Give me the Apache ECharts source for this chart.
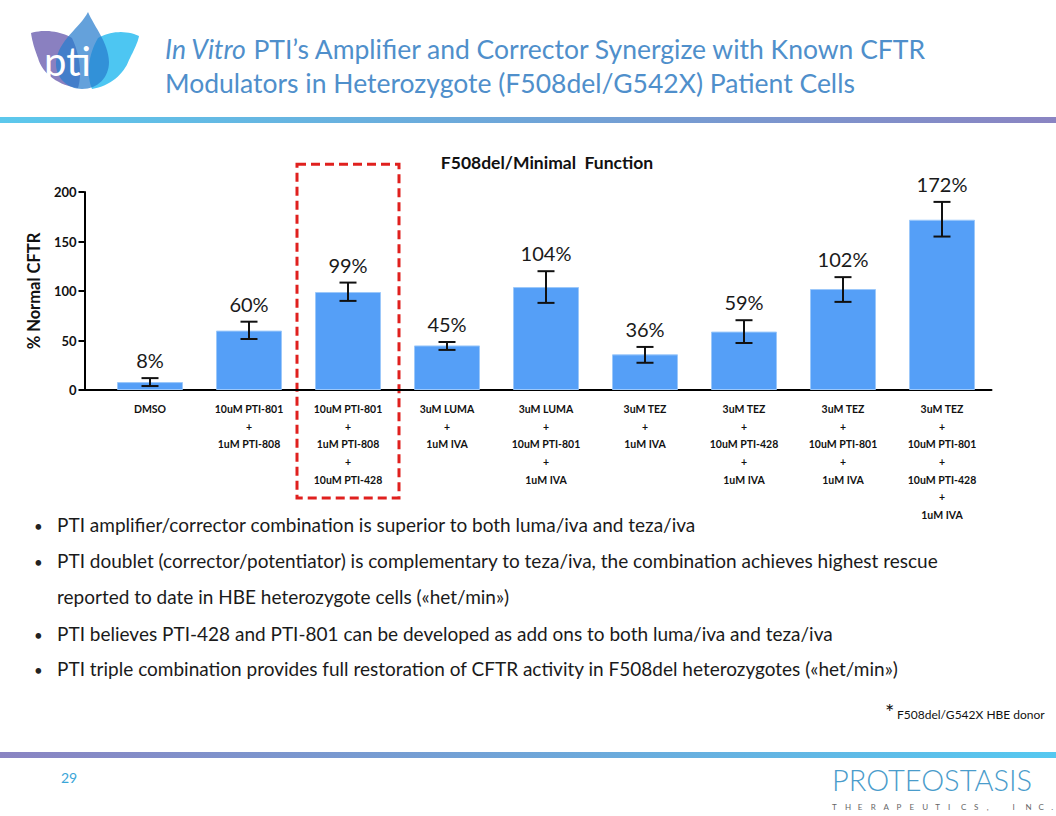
<!DOCTYPE html>
<html>
<head>
<meta charset="utf-8">
<script src="https://cdn.jsdelivr.net/npm/echarts@6/dist/echarts.min.js"></script>
<style>
html,body{margin:0;padding:0;background:#fff;}
#chart{width:1056px;height:816px;}
</style>
</head>
<body>
<div id="chart"></div>
<script>
const categories = [
  'DMSO',
  '10uM PTI-801\n+\n1uM PTI-808',
  '10uM PTI-801\n+\n1uM PTI-808\n+\n10uM PTI-428',
  '3uM LUMA\n+\n1uM IVA',
  '3uM LUMA\n+\n10uM PTI-801\n+\n1uM IVA',
  '3uM TEZ\n+\n1uM IVA',
  '3uM TEZ\n+\n10uM PTI-428\n+\n1uM IVA',
  '3uM TEZ\n+\n10uM PTI-801\n+\n1uM IVA',
  '3uM TEZ\n+\n10uM PTI-801\n+\n10uM PTI-428\n+\n1uM IVA'
];
const values = [8, 60, 99, 45, 104, 36, 59, 102, 172];
const errLow = [4, 51.5, 90, 40.5, 88, 27.5, 47.5, 89, 155];
const errHigh = [12, 69, 108.5, 48.5, 120, 43.5, 70.5, 114, 190];
const valueLabels = ['8%', '60%', '99%', '45%', '104%', '36%', '59%', '102%', '172%'];
const yTicks = { min: 0, max: 200, interval: 50 };
const highlightIndex = 2;
const chartTitle = 'F508del/Minimal  Function';
const yName = '% Normal CFTR';
const bullets = [
  'PTI amplifier/corrector combination is superior to both luma/iva and teza/iva',
  'PTI doublet (corrector/potentiator) is complementary to teza/iva, the combination achieves highest rescue',
  'reported to date in HBE heterozygote cells («het/min»)',
  'PTI believes PTI-428 and PTI-801 can be developed as add ons to both luma/iva and teza/iva',
  'PTI triple combination provides full restoration of CFTR activity in F508del heterozygotes («het/min»)'
];
const bulletHasDot = [true, true, false, true, true];

const FONT = 'Lato, "Open Sans", sans-serif';
const chart = echarts.init(document.getElementById('chart'), null, { renderer: 'svg' });

const errData = categories.map((c, i) => [i, values[i], errLow[i], errHigh[i]]);

function bez(start, segs) {
  const pts = [start];
  let p0 = start;
  segs.forEach(s => {
    const [c1, c2, p3] = s;
    for (let t = 1; t <= 16; t++) {
      const u = t / 16, v = 1 - u;
      pts.push([
        v * v * v * p0[0] + 3 * v * v * u * c1[0] + 3 * v * u * u * c2[0] + u * u * u * p3[0],
        v * v * v * p0[1] + 3 * v * v * u * c1[1] + 3 * v * u * u * c2[1] + u * u * u * p3[1]
      ]);
    }
    p0 = p3;
  });
  return pts;
}
const petalPurple = bez([31, 33], [
  [[44, 29], [60, 31], [72, 38]],
  [[80, 55], [82, 75], [78, 88]],
  [[60, 86], [42, 74], [38, 58]],
  [[34, 48], [32, 40], [31, 33]]
]);
const petalCyan = bez([139, 36], [
  [[126, 30], [110, 31], [98, 38]],
  [[88, 55], [86, 75], [92, 89]],
  [[110, 86], [124, 74], [129, 60]],
  [[134, 50], [138, 42], [139, 36]]
]);
const petalBlue = bez([88, 12], [
  [[80, 28], [58, 40], [56, 62]],
  [[55, 78], [68, 89], [82, 89]],
  [[98, 89], [109, 77], [109, 62]],
  [[108, 42], [95, 28], [88, 12]]
]);

const gradTop = { type: 'linear', x: 0, y: 0, x2: 1, y2: 0, colorStops: [{ offset: 0, color: '#5CC8EC' }, { offset: 0.5, color: '#6FA5D8' }, { offset: 1, color: '#8A84C2' }] };
const gradBot = { type: 'linear', x: 0, y: 0, x2: 1, y2: 0, colorStops: [{ offset: 0, color: '#8A84C2' }, { offset: 0.5, color: '#6FA5D8' }, { offset: 1, color: '#55C8F0' }] };

const staticGraphics = [
  { type: 'polygon', shape: { points: petalPurple }, style: { fill: '#8A80C0' } },
  { type: 'polygon', shape: { points: petalCyan }, style: { fill: '#4DC6F2' } },
  { type: 'polygon', shape: { points: petalBlue }, style: { fill: 'rgba(40,125,205,0.72)' } },
  { type: 'text', left: 44, top: 41, style: { text: 'pti', fill: '#fff', fontSize: 40, fontWeight: 'normal', fontFamily: FONT } },
  { type: 'text', left: 165, top: 32, style: {
      text: '{i|In Vitro} PTI’s Amplifier and Corrector Synergize with Known CFTR\nModulators in Heterozygote (F508del/G542X) Patient Cells',
      fill: '#4F8FCB', fontSize: 26.5, fontWeight: 'normal', fontFamily: FONT, lineHeight: 34,
      rich: { i: { fontStyle: 'italic', fill: '#4F8FCB', fontSize: 26.5, fontFamily: FONT } }
  } },
  { type: 'rect', shape: { x: 0, y: 117, width: 1056, height: 6 }, style: { fill: gradTop } },
  { type: 'rect', shape: { x: 0, y: 752, width: 1056, height: 6 }, style: { fill: gradBot } },
  { type: 'text', left: 885, top: 700, style: { text: '*', fill: '#111', font: '22px ' + FONT } },
  { type: 'text', left: 897, top: 708, style: { text: 'F508del/G542X HBE donor', fill: '#111', font: '12px ' + FONT } },
  { type: 'text', left: 61, top: 770, style: { text: '29', fill: '#3AA6D8', font: '14px ' + FONT } },
  { type: 'text', left: 832, top: 765, style: { text: 'PROTEOSTASIS', fill: '#4A9CCB', font: '300 29px ' + FONT } }
];
const subLetters = ['T','H','E','R','A','P','E','U','T','I','C','S',',','','I','N','C','.'];
subLetters.forEach((ch, k) => {
  if (ch) staticGraphics.push({ type: 'text', left: 832 + k * 12.9, top: 803, style: { text: ch, fill: '#666', font: '8px ' + FONT } });
});
bullets.forEach((b, i) => {
  const yc = [527, 563, 599, 636, 671][i];
  if (bulletHasDot[i]) {
    staticGraphics.push({ type: 'text', left: 34, top: yc - 9, style: { text: '•', fill: '#222', font: '15px ' + FONT } });
  }
  staticGraphics.push({ type: 'text', left: 57, top: yc - 12, style: { text: b, fill: '#1a1a1a', font: '19px ' + FONT } });
});

const option = {
  backgroundColor: '#fff',
  animation: false,
  title: {
    text: chartTitle, left: 542, top: 148, textAlign: 'center',
    textStyle: { fontFamily: FONT, fontWeight: 'bold', fontSize: 17.5, color: '#111' }
  },
  grid: { left: 100.5, right: 64.5, top: 192, bottom: 426 },
  xAxis: {
    type: 'category', data: categories,
    axisLine: { lineStyle: { color: '#000', width: 2 } },
    axisTick: { alignWithLabel: true, length: 6, lineStyle: { color: '#000', width: 2 } },
    axisLabel: { interval: 0, fontFamily: FONT, fontWeight: 'bold', fontSize: 10.5, lineHeight: 17.7, color: '#111', margin: 10 }
  },
  yAxis: {
    type: 'value', min: yTicks.min, max: yTicks.max, interval: yTicks.interval, offset: 16,
    name: yName, nameLocation: 'middle', nameRotate: 90, nameGap: 33,
    nameTextStyle: { fontFamily: FONT, fontWeight: 'bold', fontSize: 16.5, color: '#111' },
    axisLine: { show: true, lineStyle: { color: '#000', width: 2 } },
    axisTick: { show: true, length: 6, lineStyle: { color: '#000', width: 2 } },
    axisLabel: { fontFamily: FONT, fontWeight: 'bold', fontSize: 13, color: '#111', margin: 8 },
    splitLine: { show: false }
  },
  series: [
    {
      type: 'bar', data: values, barWidth: 66,
      itemStyle: { color: '#559FF7', borderColor: '#9CC8FA', borderWidth: 1 }
    },
    {
      type: 'custom', data: errData, z: 5,
      renderItem: function (params, api) {
        const i = api.value(0);
        const lo = api.coord([i, api.value(2)]);
        const hi = api.coord([i, api.value(3)]);
        const cw = 8.5;
        const ls = { stroke: '#111', lineWidth: 2 };
        return {
          type: 'group',
          children: [
            { type: 'line', shape: { x1: hi[0], y1: hi[1], x2: lo[0], y2: lo[1] }, style: ls },
            { type: 'line', shape: { x1: hi[0] - cw, y1: hi[1], x2: hi[0] + cw, y2: hi[1] }, style: ls },
            { type: 'line', shape: { x1: lo[0] - cw, y1: lo[1], x2: lo[0] + cw, y2: lo[1] }, style: ls },
            { type: 'text', style: { text: valueLabels[params.dataIndex], x: hi[0], y: hi[1] - 8, align: 'center', verticalAlign: 'bottom', fontSize: 20, fontFamily: FONT, fill: '#1a1a1a' } }
          ]
        };
      }
    }
  ],
  graphic: staticGraphics
};
chart.setOption(option);

const p0 = chart.convertToPixel({ gridIndex: 0 }, [0, 0]);
const pc = chart.convertToPixel({ gridIndex: 0 }, [highlightIndex, 0]);
const pTop = chart.convertToPixel({ gridIndex: 0 }, [highlightIndex, 228]);
const yAxisX = p0[0] - 49.5 - 16;
chart.setOption({
  graphic: staticGraphics.concat([
    { type: 'line', shape: { x1: yAxisX - 1, y1: p0[1], x2: p0[0] - 49, y2: p0[1] }, style: { stroke: '#000', lineWidth: 2 } },
    { type: 'rect', shape: { x: pc[0] - 51, y: pTop[1], width: 102, height: 498 - pTop[1] },
      style: { fill: 'none', stroke: '#E0201E', lineWidth: 3, lineDash: [9, 5] } }
  ])
});
</script>
</body>
</html>
